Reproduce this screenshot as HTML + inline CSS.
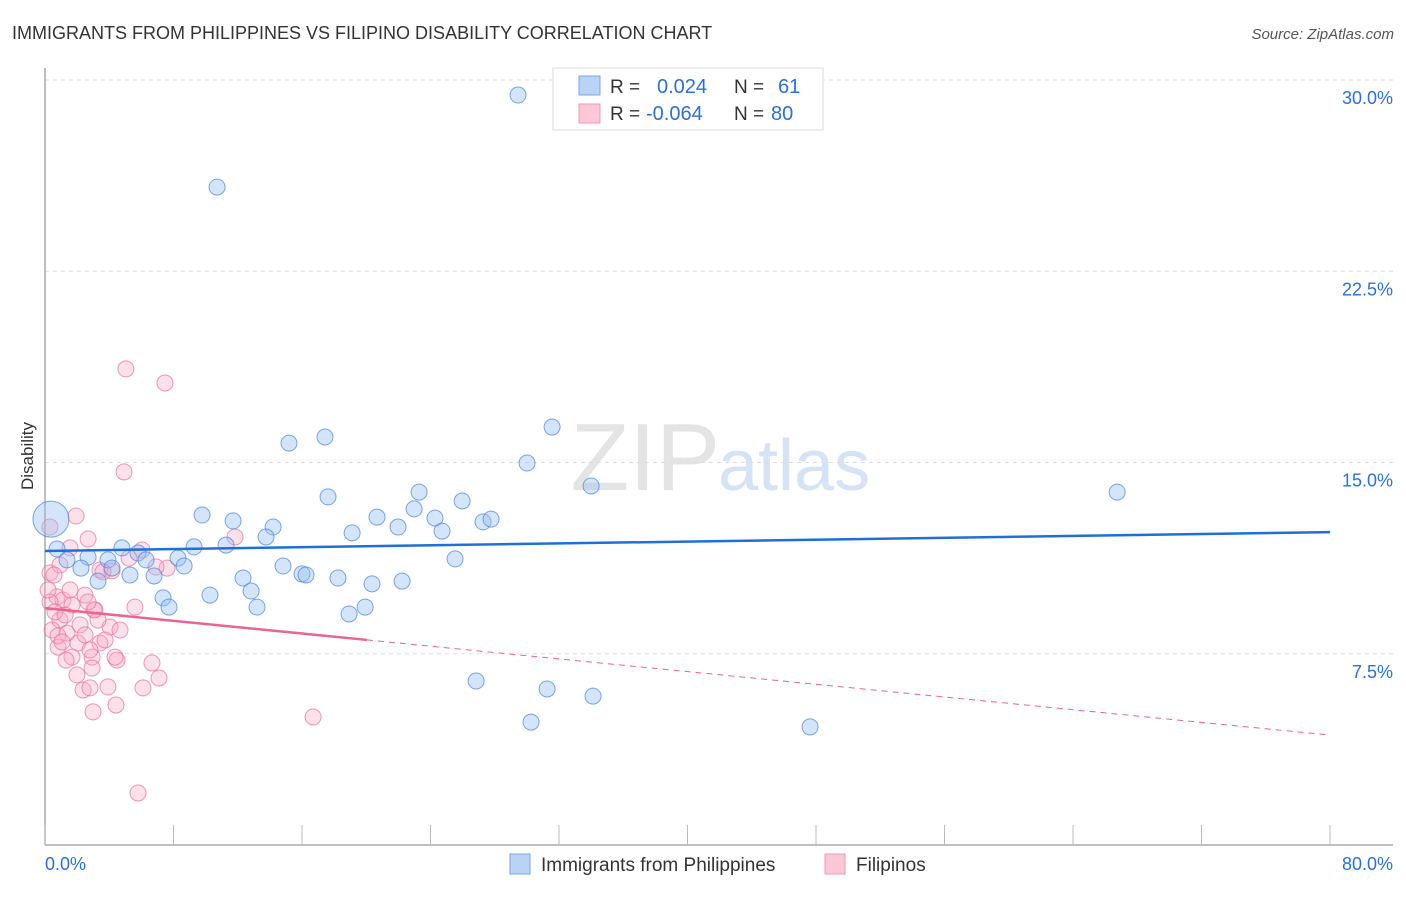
<!DOCTYPE html>
<html><head><meta charset="utf-8"><style>
body{margin:0;background:#fff;font-family:"Liberation Sans",sans-serif;}
svg text{font-family:"Liberation Sans",sans-serif;}
</style></head><body>
<svg id="chart" width="1406" height="892" viewBox="0 0 1406 892" xmlns="http://www.w3.org/2000/svg">
<text x="12" y="39" font-size="18" fill="#333">IMMIGRANTS FROM PHILIPPINES VS FILIPINO DISABILITY CORRELATION CHART</text>
<text x="1394" y="39" font-size="15" fill="#555" font-style="italic" text-anchor="end">Source: ZipAtlas.com</text>
<text x="720" y="490" font-size="96" fill="#e4e4e4" text-anchor="end" font-family="Liberation Serif">ZIP</text>
<text x="718" y="490" font-size="72" fill="#d6e3f5">atlas</text>
<g id="grid"></g>
<g id="axes"></g>
<g id="pink"></g>
<g id="blue"></g>
<g id="trends"></g>
<text transform="translate(33,456) rotate(-90)" font-size="17" fill="#333" text-anchor="middle">Disability</text>
<g>
<rect x="553" y="68" width="270" height="62" fill="#fff" stroke="#ddd"/>
<rect x="579" y="76" width="21" height="19" fill="#b8d3f5" stroke="#7aa6e0"/>
<rect x="579" y="104" width="21" height="19" fill="#fcc8d8" stroke="#ec9ab4"/>
<text x="610" y="93" font-size="19" fill="#333">R = </text><text x="657" y="93" font-size="20" fill="#2f6fd0">0.024</text>
<text x="734" y="93" font-size="19" fill="#333">N = </text><text x="778" y="93" font-size="20" fill="#2f6fd0">61</text>
<text x="610" y="120" font-size="19" fill="#333">R = </text><text x="646" y="120" font-size="20" fill="#2f6fd0">-0.064</text>
<text x="734" y="120" font-size="19" fill="#333">N = </text><text x="771" y="120" font-size="20" fill="#2f6fd0">80</text>
</g>
<g>
<rect x="510" y="854" width="20" height="20" fill="#b8d3f5" stroke="#7aa6e0"/>
<text x="541" y="871" font-size="19" fill="#333">Immigrants from Philippines</text>
<rect x="825" y="854" width="20" height="20" fill="#fcc8d8" stroke="#ec9ab4"/>
<text x="856" y="871" font-size="19" fill="#333">Filipinos</text>
</g>
</svg>
<script>
const yTicks=[7.5,15,22.5,30];
const yTickLabels=["7.5%","15.0%","22.5%","30.0%"];
const xTickLabels=["0.0%","80.0%"];
const blueX=[29.45,10.71,31.57,17.43,15.19,30.01,34.00,66.75,23.29,17.62,25.97,9.78,22.98,20.67,11.71,24.28,27.27,27.77,14.20,21.98,19.12,24.72,13.76,11.27,9.28,4.79,0.75,2.68,5.79,8.28,6.29,1.37,3.92,2.24,4.17,8.66,25.53,14.82,5.29,6.79,3.30,12.33,16.00,16.25,18.24,20.36,22.23,12.83,10.27,7.35,7.72,13.20,19.93,18.93,26.84,31.26,34.12,30.26,47.63,0.37];
const blueY=[29.41,25.80,16.39,16.00,15.76,14.98,14.08,13.84,13.84,13.65,13.49,12.94,13.18,12.86,12.71,12.82,12.67,12.78,12.47,12.47,12.24,12.31,12.08,11.76,11.69,11.65,11.61,11.29,11.45,11.25,11.18,11.18,11.18,10.86,10.86,10.94,11.22,10.94,10.59,10.55,10.35,10.47,10.63,10.59,10.47,10.24,10.35,9.96,9.80,9.69,9.33,9.33,9.33,9.06,6.43,6.12,5.84,4.82,4.63,12.78];
const blueR=[8,8,8,8,8,8,8,8,8,8,8,8,8,8,8,8,8,8,8,8,8,8,8,8,8,8,8,8,8,8,8,8,8,8,8,8,8,8,8,8,8,8,8,8,8,8,8,8,8,8,8,8,8,8,8,8,8,8,8,18];
const pinkX=[1.93,2.68,0.31,1.56,0.31,3.42,7.60,11.83,5.60,3.11,4.05,4.67,0.75,0.93,1.37,2.05,3.42,0.81,1.68,2.93,4.48,6.66,7.10,1.99,2.93,2.37,2.80,3.92,6.10,4.42,2.99,5.79,5.04,7.47,4.92,5.23,4.17,0.93,0.56,1.12,1.68,2.49,3.05,0.31,0.62,0.19,0.44,1.25,2.18,2.49,3.30,3.74,4.36,1.31,16.69,6.04,6.91,3.61,2.68,1.56,0.81,2.80,1.06];
const pinkY=[12.90,12.00,12.47,11.65,10.67,10.78,10.86,12.08,9.33,9.22,8.55,8.43,9.73,8.82,8.31,7.92,7.92,7.76,7.37,7.37,7.25,7.14,6.55,6.67,6.94,6.08,6.16,6.20,6.16,5.49,5.22,2.04,18.67,18.12,14.63,11.25,10.75,10.98,10.59,9.61,9.41,9.80,9.22,9.53,9.14,10.00,8.43,9.02,8.63,8.24,8.82,8.04,7.37,7.25,5.02,11.57,10.90,10.71,9.53,10.00,8.20,7.65,7.96];
const blueTrend=[11.53,12.27];
const pinkTrend=[9.29,4.31];
const pinkSolidEnd=20.05;
const X0=45,X1=1330,Y0=845,Ytop=80;
const sx=v=>X0+(v/80)*(X1-X0);
const sy=v=>Y0-(v/30)*(Y0-Ytop);
const NS="http://www.w3.org/2000/svg";
function mk(tag,attrs,parent){const e=document.createElementNS(NS,tag);for(const k in attrs)e.setAttribute(k,attrs[k]);document.getElementById(parent).appendChild(e);return e;}
yTicks.forEach((t,i)=>{
 const l=mk('line',{x1:X0,x2:1393,y1:sy(t),y2:sy(t),stroke:'#ddd','stroke-dasharray':'4,4'},'grid');
 
 
 const tx=mk('text',{x:1393,y:sy(t)+24,'font-size':18,fill:'#2f6fd0','text-anchor':'end'},'grid');
 tx.textContent=yTickLabels[i];
 
 
});
const ax=mk('line',{x1:X0,x2:1393,y1:Y0,y2:Y0,stroke:'#aaa','stroke-width':1.5},'axes');


const ay=mk('line',{x1:X0,x2:X0,y1:68,y2:Y0,stroke:'#aaa','stroke-width':1.5},'axes');


for(let i=0;i<=10;i++){
 const t=mk('line',{x1:sx(i*8),x2:sx(i*8),y1:825,y2:Y0,stroke:'#bbb'},'axes');
 
 
}
[[0,'start'],[80,'end']].forEach((p,i)=>{
 const tx=mk('text',{x:i?1393:45,y:870,'font-size':18,fill:'#2f6fd0','text-anchor':p[1]},'axes');
 tx.textContent=xTickLabels[i];
 
 
});
pinkX.forEach((v,i)=>{
 const c=mk('circle',{cx:sx(v),cy:sy(pinkY[i]),r:8,fill:'rgba(248,170,195,0.35)',stroke:'rgba(232,110,150,0.7)','stroke-width':1},'pink');
 
 
});
blueX.forEach((v,i)=>{
 const c=mk('circle',{cx:sx(v),cy:sy(blueY[i]),r:blueR[i],fill:'rgba(150,190,240,0.4)',stroke:'rgba(70,130,220,0.7)','stroke-width':1},'blue');
 
 
});
const bt=mk('line',{x1:sx(0),y1:sy(blueTrend[0]),x2:sx(80),y2:sy(blueTrend[1]),stroke:'#1f6fd6','stroke-width':2.5},'trends');


const pAt=x=>pinkTrend[0]+(pinkTrend[1]-pinkTrend[0])*x/80;
const ps=mk('line',{x1:sx(0),y1:sy(pinkTrend[0]),x2:sx(pinkSolidEnd),y2:sy(pAt(pinkSolidEnd)),stroke:'#e8658f','stroke-width':2.5},'trends');


const pd=mk('line',{x1:sx(pinkSolidEnd),y1:sy(pAt(pinkSolidEnd)),x2:sx(80),y2:sy(pinkTrend[1]),stroke:'#e8658f','stroke-width':1,'stroke-dasharray':'6,5'},'trends');


</script>
</body></html>
